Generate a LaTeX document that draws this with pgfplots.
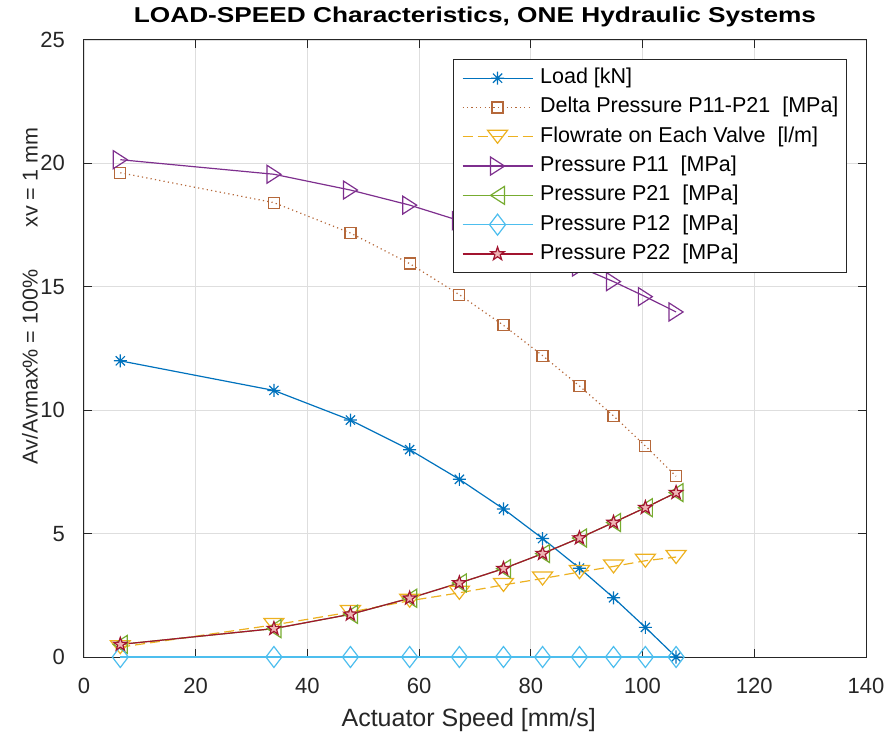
\documentclass[border=0pt]{standalone}
\usepackage{fontspec}
\setmainfont{Liberation Sans}
\newfontfamily\titlefont[FakeStretch=1.22]{Liberation Sans}
\usepackage{pgfplots}
\pgfplotsset{compat=1.18}

\definecolor{mblue}{HTML}{0072BD}
\definecolor{mbrown}{HTML}{B5683A}
\definecolor{myellow}{HTML}{EDB120}
\definecolor{mpurple}{HTML}{7E2F8E}
\definecolor{mgreen}{HTML}{77AC30}
\definecolor{mcyan}{HTML}{4DBEEE}
\definecolor{mred}{HTML}{A2142F}
\definecolor{starfill}{HTML}{EEB4B4}
\definecolor{axgray}{HTML}{262626}
\definecolor{gridgray}{HTML}{DEDEDE}

% MATLAB-like marker shapes
\pgfdeclareplotmark{mast}{%
  \pgfpathmoveto{\pgfqpoint{0bp}{6.5bp}}\pgfpathlineto{\pgfqpoint{0bp}{-6.5bp}}%
  \pgfpathmoveto{\pgfqpoint{-6.5bp}{0bp}}\pgfpathlineto{\pgfqpoint{6.5bp}{0bp}}%
  \pgfpathmoveto{\pgfqpoint{-4.6bp}{-4.6bp}}\pgfpathlineto{\pgfqpoint{4.6bp}{4.6bp}}%
  \pgfpathmoveto{\pgfqpoint{-4.6bp}{4.6bp}}\pgfpathlineto{\pgfqpoint{4.6bp}{-4.6bp}}%
  \pgfusepathqstroke}
\pgfdeclareplotmark{msquare}{%
  \pgfpathrectangle{\pgfqpoint{-5.5bp}{-5.5bp}}{\pgfqpoint{11bp}{11bp}}%
  \pgfusepathqstroke}
\pgfdeclareplotmark{tridown}{%
  \pgfpathmoveto{\pgfqpoint{-10bp}{6.5bp}}%
  \pgfpathlineto{\pgfqpoint{10bp}{6.5bp}}%
  \pgfpathlineto{\pgfqpoint{0bp}{-6.5bp}}%
  \pgfpathclose\pgfusepathqstroke}
\pgfdeclareplotmark{triright}{%
  \pgfpathmoveto{\pgfqpoint{-7bp}{9bp}}%
  \pgfpathlineto{\pgfqpoint{-7bp}{-9bp}}%
  \pgfpathlineto{\pgfqpoint{7bp}{0bp}}%
  \pgfpathclose\pgfusepathqstroke}
\pgfdeclareplotmark{trileft}{%
  \pgfpathmoveto{\pgfqpoint{7bp}{9bp}}%
  \pgfpathlineto{\pgfqpoint{7bp}{-9bp}}%
  \pgfpathlineto{\pgfqpoint{-7bp}{0bp}}%
  \pgfpathclose\pgfusepathqstroke}
\pgfdeclareplotmark{mdiamond}{%
  \pgfpathmoveto{\pgfqpoint{0bp}{10.5bp}}%
  \pgfpathlineto{\pgfqpoint{8bp}{0bp}}%
  \pgfpathlineto{\pgfqpoint{0bp}{-10.5bp}}%
  \pgfpathlineto{\pgfqpoint{-8bp}{0bp}}%
  \pgfpathclose\pgfusepathqstroke}
\pgfdeclareplotmark{pentagram}{%
  \pgfpathmoveto{\pgfqpoint{0bp}{7bp}}%
  \pgfpathlineto{\pgfqpoint{-1.646bp}{2.265bp}}%
  \pgfpathlineto{\pgfqpoint{-6.657bp}{2.163bp}}%
  \pgfpathlineto{\pgfqpoint{-2.663bp}{-0.865bp}}%
  \pgfpathlineto{\pgfqpoint{-4.115bp}{-5.663bp}}%
  \pgfpathlineto{\pgfqpoint{0bp}{-2.8bp}}%
  \pgfpathlineto{\pgfqpoint{4.115bp}{-5.663bp}}%
  \pgfpathlineto{\pgfqpoint{2.663bp}{-0.865bp}}%
  \pgfpathlineto{\pgfqpoint{6.657bp}{2.163bp}}%
  \pgfpathlineto{\pgfqpoint{1.646bp}{2.265bp}}%
  \pgfpathclose\pgfusepathqfillstroke}

\begin{document}
\begin{tikzpicture}
\begin{axis}[
  at={(0,0)}, anchor=south west,
  scale only axis, width=782bp, height=617bp,
  xmin=0, xmax=140, ymin=0, ymax=25,
  xtick={0,20,...,140}, ytick={0,5,...,25},
  clip=false,
  grid=major,
  major grid style={gridgray, line width=0.8bp},
  axis line style={axgray, line width=1bp},
  tick style={axgray, line width=1bp},
  major tick length=8bp,
  tick align=inside,
  /pgf/number format/assume math mode=true,
  tick label style={font=\fontsize{22bp}{22bp}\selectfont, text=axgray},
  xticklabel style={anchor=base, inner sep=0pt, yshift=-36bp},
  yticklabel style={anchor=east, inner sep=0pt, xshift=-19bp},
  title={LOAD-SPEED Characteristics, ONE Hydraulic Systems},
  title style={at={(axis description cs:0.5,1)}, anchor=base, yshift=12bp,
    font=\titlefont\bfseries\fontsize{21.5bp}{21.5bp}\selectfont, text=black},
  xlabel={Actuator Speed [mm/s]},
  xlabel style={at={(axis description cs:0.492,0)}, anchor=base, yshift=-69bp,
    font=\fontsize{25bp}{25bp}\selectfont, text=axgray},
  ylabel={Av/Avmax\% = 100\%\hspace{42bp}xv = 1 mm},
  ylabel style={at={(axis description cs:-0.0691,0.585)}, anchor=center,
    font=\fontsize{21.5bp}{21.5bp}\selectfont, text=axgray},
  legend style={at={(axis description cs:0.9757,0.9692)}, anchor=north east,
    draw=axgray, line width=1bp, fill=white,
    font=\fontsize{21.5bp}{21.5bp}\selectfont, text=black,
    inner xsep=8bp, inner ysep=4bp, column sep=7bp, row sep=0pt,
    nodes={inner xsep=0pt, inner ysep=5bp, text height=15bp, text depth=4.3bp}},
  legend cell align=left,
  legend image code/.code={%
    \draw[mark repeat=2, mark phase=2, #1]
      plot coordinates {(0bp,0bp) (35bp,0bp) (70bp,0bp)};},
]

% Load [kN]
\addplot[mblue, line width=1.2bp, mark=mast, mark options={solid}]
  coordinates {(6.5,12.0) (34,10.8) (47.7,9.6) (58.3,8.4) (67.2,7.2) (75.1,6.0)
               (82.1,4.8) (88.7,3.6) (94.8,2.4) (100.5,1.2) (106,0)};
\addlegendentry{Load [kN]}

% Delta pressure P11-P21 [MPa]
\addplot[mbrown, line width=1.2bp, dash pattern=on 1.2bp off 3.2bp, mark=msquare, mark options={solid}]
  coordinates {(6.5,19.62) (34,18.41) (47.7,17.18) (58.3,15.94) (67.2,14.68) (75.1,13.44)
               (82.1,12.21) (88.7,10.98) (94.8,9.77) (100.5,8.55) (106,7.32)};
\addlegendentry{Delta Pressure P11-P21\ \ [MPa]}

% Flowrate on each valve [l/m]
\addplot[myellow, line width=1.2bp, dash pattern=on 10bp off 5bp, mark=tridown, mark options={solid}]
  coordinates {(6.5,0.40) (34,1.30) (47.7,1.82) (58.3,2.28) (67.2,2.60) (75.1,2.92)
               (82.1,3.18) (88.7,3.44) (94.8,3.67) (100.5,3.90) (106,4.05)};
\addlegendentry{Flowrate on Each Valve\ \ [l/m]}

% Pressure P11 [MPa]
\addplot[mpurple, line width=1.2bp, mark=triright, mark options={solid}]
  coordinates {(6.5,20.15) (34,19.56) (47.7,18.92) (58.3,18.31) (67.2,17.68) (75.1,17.02)
               (82.1,16.40) (88.7,15.80) (94.8,15.21) (100.5,14.60) (106,13.98)};
\addlegendentry{Pressure P11\ \ [MPa]}

% Pressure P21 [MPa]
\addplot[mgreen, line width=1.2bp, mark=trileft, mark options={solid}]
  coordinates {(6.5,0.51) (34,1.15) (47.7,1.73) (58.3,2.38) (67.2,3.00) (75.1,3.58)
               (82.1,4.19) (88.7,4.82) (94.8,5.45) (100.5,6.05) (106,6.66)};
\addlegendentry{Pressure P21\ \ [MPa]}

% Pressure P12 [MPa]
\addplot[mcyan, line width=1.2bp, mark=mdiamond, mark options={solid}]
  coordinates {(6.5,0) (34,0) (47.7,0) (58.3,0) (67.2,0) (75.1,0)
               (82.1,0) (88.7,0) (94.8,0) (100.5,0) (106,0)};
\addlegendentry{Pressure P12\ \ [MPa]}

% Pressure P22 [MPa]
\addplot[mred, line width=1.2bp, mark=pentagram, mark options={solid, fill=starfill}]
  coordinates {(6.5,0.51) (34,1.15) (47.7,1.73) (58.3,2.38) (67.2,3.00) (75.1,3.58)
               (82.1,4.19) (88.7,4.82) (94.8,5.45) (100.5,6.05) (106,6.66)};
\addlegendentry{Pressure P22\ \ [MPa]}

\end{axis}
\pgfresetboundingbox
\path (-84bp,-76bp) rectangle (808bp,657bp);
\end{tikzpicture}
\end{document}
